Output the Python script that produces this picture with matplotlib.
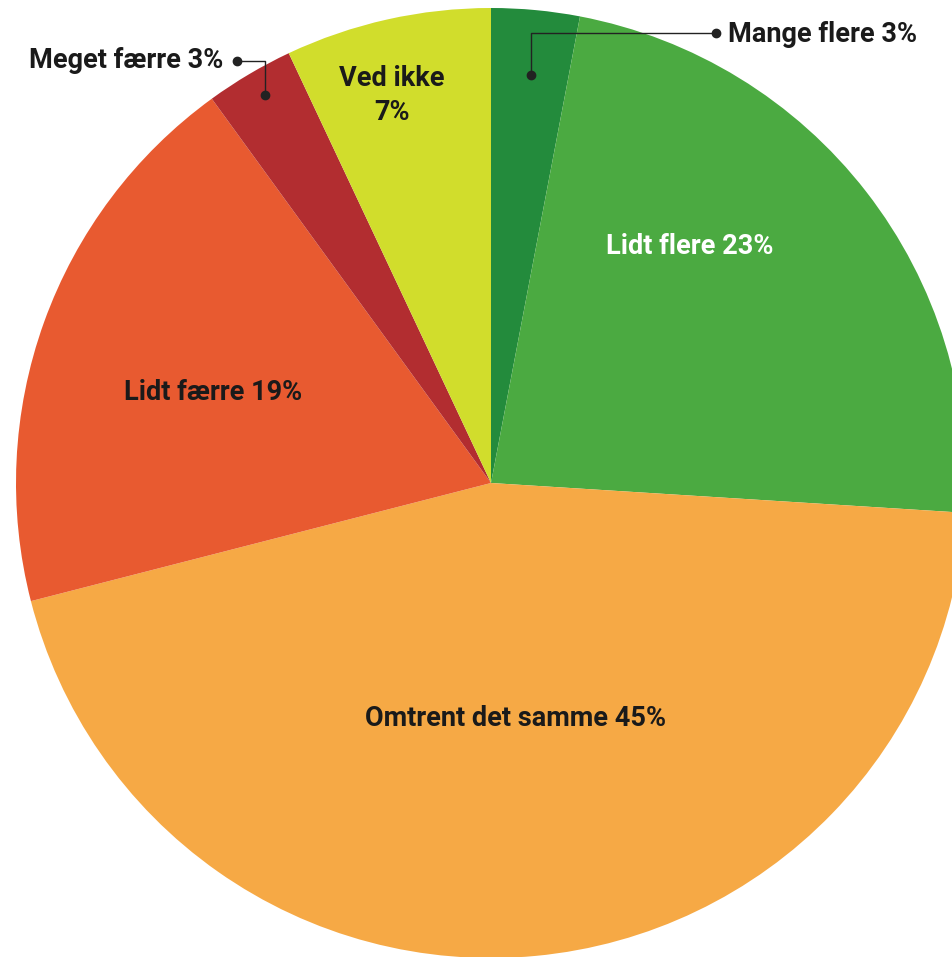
import matplotlib
matplotlib.use("Agg")
import matplotlib.pyplot as plt

W, H = 953, 957

labels = ["Mange flere 3%", "Lidt flere 23%", "Omtrent det samme 45%",
          "Lidt færre 19%", "Meget færre 3%", "Ved ikke", "7%"]
values = [3, 23, 45, 19, 3, 7]
colors = ["#238B3C", "#4BAA41", "#F6A945", "#E85A30", "#B22D30", "#D1DD2C"]

plt.rcParams['font.family'] = ['Roboto', 'DejaVu Sans']

fig = plt.figure(figsize=(W / 100, H / 100), dpi=100)
ax = fig.add_axes([0, 0, 1, 1])

def Y(y):
    return H - y

cx, cy, r = 491, 483, 475
ax.pie(values, colors=colors, startangle=90, counterclock=False,
       center=(cx, Y(cy)), radius=r, frame=True,
       wedgeprops=dict(linewidth=0))
ax.set_xlim(0, W)
ax.set_ylim(0, H)
ax.set_aspect('equal')
ax.axis('off')

fs = 19.5
tc = "#1a1a1a"
kw = dict(fontsize=fs, fontweight='bold', va='center')
# inside labels
ax.text(690, Y(247), labels[1], color="white", ha='center', **kw)
ax.text(516, Y(719), labels[2], color=tc, ha='center', **kw)
ax.text(213, Y(392), labels[3], color=tc, ha='center', **kw)
ax.text(392, Y(78), labels[5], color=tc, ha='center', **kw)
ax.text(392, Y(113), labels[6], color=tc, ha='center', **kw)

# callouts
lc = "#222222"
ax.plot([716, 531, 531], [Y(33), Y(33), Y(75)], color=lc, lw=1.0)
ax.plot([716, 531], [Y(33), Y(75)], 'o', color=lc, ms=6)
ax.text(728, Y(34), labels[0], color=tc, ha='left', **kw)

ax.plot([237, 265, 265], [Y(61), Y(61), Y(95)], color=lc, lw=1.0)
ax.plot([237, 265], [Y(61), Y(95)], 'o', color=lc, ms=6)
ax.text(223, Y(61), labels[4], color=tc, ha='right', **kw)

fig.savefig("out.png", dpi=100)
